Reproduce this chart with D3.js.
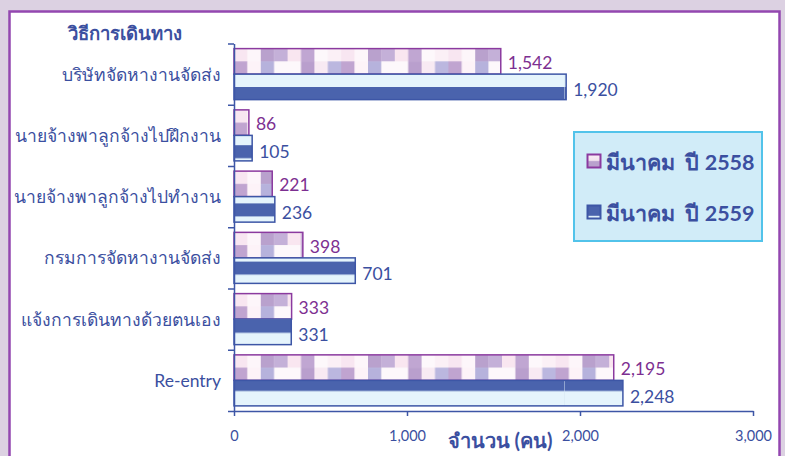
<!DOCTYPE html>
<html><head><meta charset="utf-8">
<script src="https://cdn.jsdelivr.net/npm/d3@7"></script>
<style>
html,body{margin:0;padding:0;background:#dcd1e2;}
svg{display:block;}
</style></head>
<body>
<script>
const categories = ["บริษัทจัดหางานจัดส่ง","นายจ้างพาลูกจ้างไปฝึกงาน","นายจ้างพาลูกจ้างไปทำงาน","กรมการจัดหางานจัดส่ง","แจ้งการเดินทางด้วยตนเอง","Re-entry"];
const values2558 = [1542, 86, 221, 398, 333, 2195];
const values2559 = [1920, 105, 236, 701, 331, 2248];
const seriesNames = ["มีนาคม  ปี 2558", "มีนาคม  ปี 2559"];
const xTicks = [0, 1000, 2000, 3000];
const yTitle = "วิธีการเดินทาง";
const xTitle = "จำนวน (คน)";

const W = 785, H = 456;
const FONT = "Lato, 'DejaVu Sans', sans-serif";
const BLUE_TXT = "#3b4fa0", PURPLE_TXT = "#7d2f91";

const svg = d3.select("body").append("svg").attr("width", W).attr("height", H);
svg.append("rect").attr("width", W).attr("height", H).attr("fill", "#dcd1e2");
svg.append("rect").attr("x", 9.5).attr("y", 11.5).attr("width", 770).attr("height", 470)
  .attr("fill", "#fff").attr("stroke", "#9347b0").attr("stroke-width", 2.5);

const x = d3.scaleLinear().domain([0, 3000]).range([234, 753]);
const y = d3.scaleBand().domain(categories).range([43.5, 411]).paddingInner(0.167).paddingOuter(0.0835);
const bh = y.bandwidth() / 2;

// patterns
const defs = svg.append("defs");
const cellW = 13.4;
const row1 = ["#f8e6f1","#fdf6fa","#b9a1cd","#c4b0d8","#f9e6f0","#c0a6d2","#fdf8fb","#fbf0f6"];
const row2 = ["#c0a4d0","#fdf3f8","#b6b2dc","#fdf8fb","#fdf8fb","#b99fcd","#f8eaf3","#bbb7df"];
const off = (y.step() - y.bandwidth()) / 2;
const p1 = defs.append("pattern").attr("id", "p2558").attr("patternUnits", "userSpaceOnUse")
  .attr("x", x(0)).attr("y", y(categories[0]) - off)
  .attr("width", cellW * 8).attr("height", y.step());
p1.append("rect").attr("width", cellW * 8).attr("height", y.step()).attr("fill", "#fdf5f9");
row1.forEach((c, i) => p1.append("rect").attr("x", i * cellW).attr("y", off).attr("width", cellW + 0.2).attr("height", bh / 2 + 0.2).attr("fill", c));
row2.forEach((c, i) => p1.append("rect").attr("x", i * cellW).attr("y", off + bh / 2).attr("width", cellW + 0.2).attr("height", bh / 2).attr("fill", c));

const P = 29.1;
const p2 = defs.append("pattern").attr("id", "p2559").attr("patternUnits", "userSpaceOnUse")
  .attr("x", x(0)).attr("y", 87).attr("width", 110).attr("height", P);
p2.append("rect").attr("width", 110).attr("height", P).attr("fill", "#e5f4fc");
p2.append("rect").attr("width", 110).attr("height", 13).attr("fill", "#4a63ad");
p2.append("rect").attr("x", 0).attr("width", 1).attr("height", P).attr("fill", "#d6e6f2").attr("opacity", 0.5);

const legGrad = defs.append("linearGradient").attr("id", "lg1").attr("x1", 0).attr("y1", 0).attr("x2", 0).attr("y2", 1);
legGrad.append("stop").attr("offset", "0%").attr("stop-color", "#fbeef6");
legGrad.append("stop").attr("offset", "45%").attr("stop-color", "#f2e2ee");
legGrad.append("stop").attr("offset", "55%").attr("stop-color", "#b9a1cd");
legGrad.append("stop").attr("offset", "100%").attr("stop-color", "#b9a1cd");
const legGrad2 = defs.append("linearGradient").attr("id", "lg2").attr("x1", 0).attr("y1", 0).attr("x2", 0).attr("y2", 1);
legGrad2.append("stop").attr("offset", "0%").attr("stop-color", "#4a63ad");
legGrad2.append("stop").attr("offset", "75%").attr("stop-color", "#4a63ad");
legGrad2.append("stop").attr("offset", "85%").attr("stop-color", "#e5f4fc");
legGrad2.append("stop").attr("offset", "100%").attr("stop-color", "#e5f4fc");

// bars
const g = svg.append("g");
g.selectAll(".b1").data(categories).join("rect")
  .attr("x", x(0)).attr("y", d => y(d))
  .attr("width", (d, i) => x(values2558[i]) - x(0)).attr("height", bh)
  .attr("fill", "url(#p2558)").attr("stroke", "#8b3a9f").attr("stroke-width", 1.5);
g.selectAll(".b2").data(categories).join("rect")
  .attr("x", x(0)).attr("y", d => y(d) + bh)
  .attr("width", (d, i) => x(values2559[i]) - x(0)).attr("height", bh)
  .attr("fill", "url(#p2559)").attr("stroke", "#3d56a6").attr("stroke-width", 1.5);

// value labels
g.selectAll(".l1").data(categories).join("text")
  .attr("x", (d, i) => x(values2558[i]) + 7).attr("y", d => y(d) + bh / 2 + 1)
  .attr("dominant-baseline", "central").attr("font-family", FONT).attr("font-size", 17.5)
  .attr("fill", PURPLE_TXT).text((d, i) => d3.format(",")(values2558[i]));
g.selectAll(".l2").data(categories).join("text")
  .attr("x", (d, i) => x(values2559[i]) + 7).attr("y", d => y(d) + bh * 1.5 + 3)
  .attr("dominant-baseline", "central").attr("font-family", FONT).attr("font-size", 17.5)
  .attr("fill", BLUE_TXT).text((d, i) => d3.format(",")(values2559[i]));

// y axis (boundary ticks)
const yb = d3.scaleLinear().domain([0, categories.length]).range([43.5, 411]);
const yAx = svg.append("g").attr("transform", `translate(${x(0)},0)`)
  .call(d3.axisLeft(yb).ticks(categories.length).tickSizeInner(6).tickSizeOuter(0).tickFormat(""));
yAx.selectAll("path,line").attr("stroke", "#3d56a6").attr("stroke-width", 1.5);

// category labels
svg.append("g").selectAll("text").data(categories).join("text")
  .attr("x", 221).attr("y", d => y(d) + y.bandwidth() / 2)
  .attr("text-anchor", "end").attr("dominant-baseline", "central")
  .attr("font-family", FONT).attr("font-size", 17.5).attr("fill", BLUE_TXT).text(d => d);

// x axis
const xAx = svg.append("g").attr("transform", `translate(0,411)`)
  .call(d3.axisBottom(x).tickValues(xTicks).tickFormat(d3.format(",")).tickSizeInner(5).tickSizeOuter(0).tickPadding(15));
xAx.selectAll("path,line").attr("stroke", "#3d56a6").attr("stroke-width", 1.5);
xAx.selectAll("text").attr("font-family", FONT).attr("font-size", 14.5).attr("fill", BLUE_TXT);

// titles
svg.append("text").attr("x", 68).attr("y", 33).attr("dominant-baseline", "central")
  .attr("font-family", FONT).attr("font-size", 18.5).attr("font-weight", "bold").attr("fill", BLUE_TXT).text(yTitle);
svg.append("text").attr("x", 500).attr("y", 440).attr("text-anchor", "middle").attr("dominant-baseline", "central")
  .attr("font-family", FONT).attr("font-size", 20).attr("font-weight", "bold").attr("fill", BLUE_TXT).text(xTitle);

// legend
const lg = svg.append("g");
lg.append("rect").attr("x", 574).attr("y", 132).attr("width", 188).attr("height", 109)
  .attr("fill", "#d1ecf8").attr("stroke", "#52c3ea").attr("stroke-width", 2);
const legY = [161, 212];
const fills = ["url(#lg1)", "url(#lg2)"];
const strokes = ["#8b3a9f", "#3d56a6"];
seriesNames.forEach((s, i) => {
  lg.append("rect").attr("x", 587.5).attr("y", legY[i] - 6.5).attr("width", 13).attr("height", 13)
    .attr("fill", fills[i]).attr("stroke", strokes[i]).attr("stroke-width", 2);
  lg.append("text").attr("x", 606).attr("y", legY[i] + 1).attr("dominant-baseline", "central")
    .attr("font-family", FONT).attr("font-size", 21.5).attr("font-weight", "bold").attr("fill", BLUE_TXT)
    .attr("xml:space", "preserve").style("white-space", "pre").text(s);
});
</script>
</body></html>
